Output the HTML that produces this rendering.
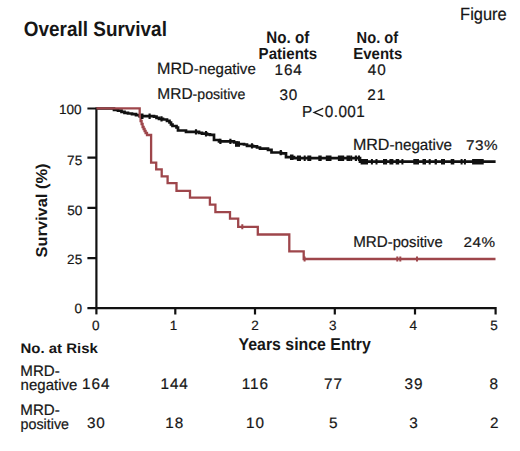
<!DOCTYPE html>
<html><head><meta charset="utf-8">
<style>
html,body{margin:0;padding:0;background:#fff;width:520px;height:451px;overflow:hidden}
svg{display:block}
text{font-family:"Liberation Sans",sans-serif;fill:#161616;stroke:#161616;stroke-width:0.2px;text-rendering:geometricPrecision}
.n{stroke-width:0.2px}
.b{font-weight:bold;stroke-width:0}
</style></head><body>
<svg width="520" height="451" viewBox="0 0 520 451">
<text transform="translate(460.10,19.50) scale(1,1.070)" font-size="16.43">Figure</text>
<text transform="translate(23.85,35.70) scale(1,1.100)" font-size="18.93" class="b">Overall Survival</text>
<text transform="translate(266.30,42.70) scale(1,1.100)" font-size="15.15" class="b">No. of</text>
<text transform="translate(258.60,58.50) scale(1,1.060)" font-size="15.08" class="b">Patients</text>
<text transform="translate(356.60,42.70) scale(1,1.100)" font-size="14.69" class="b">No. of</text>
<text transform="translate(353.30,58.50) scale(1,1.060)" font-size="14.97" class="b">Events</text>
<text transform="translate(157.05,74.20) scale(1,1.020)" font-size="15.08"><tspan font-size="16.13">MRD</tspan>-negative</text>
<text transform="translate(157.30,98.70) scale(1,1.020)" font-size="14.17"><tspan font-size="15.49">MRD</tspan>-positive</text>
<text transform="translate(274.48,74.85)" font-size="15.30" class="n" letter-spacing="0.90">164</text>
<text transform="translate(367.75,74.85)" font-size="15.30" class="n" letter-spacing="0.90">40</text>
<text transform="translate(279.45,99.60)" font-size="15.30" class="n" letter-spacing="0.90">30</text>
<text transform="translate(367.25,99.60)" font-size="15.30" class="n" letter-spacing="0.90">21</text>
<text transform="translate(59.03,114.30) scale(1,0.990)" font-size="13.54">100</text>
<text transform="translate(67.10,164.60) scale(1,0.990)" font-size="13.54">75</text>
<text transform="translate(67.25,214.60) scale(1,0.990)" font-size="13.54">50</text>
<text transform="translate(67.12,264.30) scale(1,0.990)" font-size="13.54">25</text>
<text transform="translate(74.38,312.70) scale(1,0.990)" font-size="13.54">0</text>
<text transform="translate(92.05,330.30) scale(1,0.990)" font-size="13.54">0</text>
<text transform="translate(169.77,330.30) scale(1,0.990)" font-size="13.54">1</text>
<text transform="translate(251.20,330.30) scale(1,0.990)" font-size="13.54">2</text>
<text transform="translate(328.92,330.30) scale(1,0.990)" font-size="13.54">3</text>
<text transform="translate(409.48,330.30) scale(1,0.990)" font-size="13.54">4</text>
<text transform="translate(490.18,330.30) scale(1,0.990)" font-size="13.54">5</text>
<text transform="translate(238.60,349.60) scale(1,1.080)" font-size="15.87" class="b">Years since Entry</text>
<text transform="translate(20.45,353.10) scale(1,0.930)" font-size="14.99" class="b">No. at Risk</text>
<text transform="translate(20.35,375.90)" font-size="15.14">MRD-</text>
<text transform="translate(20.60,389.50) scale(1,1.020)" font-size="15.00">negative</text>
<text transform="translate(20.35,414.90)" font-size="15.14">MRD-</text>
<text transform="translate(20.60,428.50) scale(1,1.020)" font-size="14.28">positive</text>
<text transform="translate(352.90,150.20) scale(1,1.020)" font-size="15.19"><tspan font-size="16.06">MRD</tspan>-negative</text>
<text transform="translate(466.02,150.20) scale(1,0.920)" font-size="15.30" class="n" letter-spacing="0.50">73%</text>
<text transform="translate(353.15,247.40) scale(1,1.020)" font-size="14.76"><tspan font-size="15.20">MRD</tspan>-positive</text>
<text transform="translate(463.38,247.40) scale(1,0.920)" font-size="15.30" class="n" letter-spacing="0.50">24%</text>
<text transform="translate(82.10,389.30)" font-size="15.30" class="n" letter-spacing="0.90">164</text>
<text transform="translate(160.50,389.30)" font-size="15.30" class="n" letter-spacing="0.90">144</text>
<text transform="translate(241.70,389.30)" font-size="15.30" class="n" letter-spacing="0.90">116</text>
<text transform="translate(324.12,389.30)" font-size="15.30" class="n" letter-spacing="0.90">77</text>
<text transform="translate(404.52,389.30)" font-size="15.30" class="n" letter-spacing="0.90">39</text>
<text transform="translate(489.50,389.30)" font-size="15.30" class="n">8</text>
<text transform="translate(86.93,428.35) scale(1,0.980)" font-size="15.30" class="n" letter-spacing="0.90">30</text>
<text transform="translate(165.33,428.35) scale(1,0.980)" font-size="15.30" class="n" letter-spacing="0.90">18</text>
<text transform="translate(246.02,428.35) scale(1,0.980)" font-size="15.30" class="n" letter-spacing="0.90">10</text>
<text transform="translate(328.92,428.35) scale(1,0.980)" font-size="15.30" class="n">5</text>
<text transform="translate(409.27,428.35) scale(1,0.980)" font-size="15.30" class="n">3</text>
<text transform="translate(490.00,428.35) scale(1,0.980)" font-size="15.30" class="n">2</text>
<text transform="translate(302.12,117.00) scale(1,1.04)" font-size="15.3">P</text>
<text transform="translate(324.82,117.00) scale(1,1.06)" font-size="15.3" letter-spacing="0.4">0.001</text>
<path d="M323.2,108.40 L314,112.40 L323.2,116.40" stroke="#161616" stroke-width="1.25" fill="none" stroke-linejoin="miter"/>
<text class="b" font-size="16.4" text-anchor="middle" transform="translate(46.8,210.5) rotate(-90) scale(1,0.96)">Survival (%)</text>
<g stroke="#111" stroke-width="2.2" fill="none">
<path d="M96.4,107.5 V314.4"/>
<path d="M87.4,308.2 H495.6 V314.4"/>
<path d="M87.4,108.5 H96.4 M87.4,157.7 H96.4 M87.4,207.9 H96.4 M87.4,258.2 H96.4"/>
<path d="M175.3,308 V314.4 M255,308 V314.4 M334.8,308 V314.4 M415,308 V314.4"/>
</g>
<g stroke="#111" fill="none">
<path stroke-width="2.7" d="M96.4,108.5 H114 V109.8 H118 V110.6 H121.5 V111.8 H124.5 V112.8 H128 V113.5 H132 V114.2 H136 V115.2 H139.5 V116.2 H154 V116.7 H156.5 V117.8 H159 V118.8 H163 V119.5 H167 V120.8 H169.5 V122.5 H171 V124.5 H172.5 V126 H176.5 V127.5 H178 V130.5 H186 V131.8 H199 V132.8 H202 V133.6 H207 V134.3 H210 V134.8 H214 V140 H219 V141.3 H234 V142.5 H237 V144 H244 V144.5 H247 V145.8 H253 V146.4 H257 V147.5 H260 V148.6 H268 V149.8 H271.5 V152.5 H281 V153.3 H286 V157.2 H294 V158.2 H360 V161.7 H495.6"/>
<path stroke-width="2.2" d="M149.6,113.6v5.4 M161.5,116.2v5.4 M196,129.2v5.4 M206,131.0v5.4 M220.4,138.7v5.4 M230.4,138.7v5.4 M252,143.2v5.4 M280.8,149.9v5.4"/>
</g>
<g stroke="#9e464b" fill="none">
<path stroke-width="2.3" d="M96.4,108.4 H139.7 V116 H140.6 V121 H141.6 V124 H142.6 V127 H143.6 V129 H144.6 V131 H145.6 V133 H147 V135 H151.1 V162.6 H156.2 V169.3 H161.7 V176.3 H167.6 V183.2 H176.5 V190.9 H190 V197.7 H209.9 V204.7 H215.4 V212.2 H230 V218.6 H238.2 V226.8 H257.8 V234.5 H289.3 V251.3 H303.7 V259 H495.5"/>
<path stroke-width="2" d="M242.3,224.3v5 M304.6,256.5v5 M397.3,256.5v5 M400.3,256.5v5 M417,256.5v5"/>
</g>
<g fill="#111"><rect x="235.0" y="141.3" width="5.0" height="5.5"/><rect x="141.0" y="113.5" width="2.5" height="5.5"/><rect x="290.0" y="154.5" width="3.5" height="5.5"/><rect x="296.9" y="155.5" width="4.1" height="5.5"/><rect x="303.7" y="155.5" width="2.0" height="5.5"/><rect x="307.3" y="155.5" width="4.0" height="5.5"/><rect x="318.3" y="155.5" width="3.4" height="5.5"/><rect x="325.8" y="155.5" width="5.7" height="5.5"/><rect x="337.9" y="155.5" width="6.3" height="5.5"/><rect x="346.5" y="155.5" width="3.5" height="5.5"/><rect x="350.2" y="155.5" width="2.0" height="5.5"/><rect x="354.8" y="155.5" width="2.3" height="5.5"/><rect x="358.0" y="155.5" width="2.0" height="5.5"/><rect x="360.6" y="159.0" width="7.4" height="5.5"/><rect x="370.9" y="159.0" width="2.0" height="5.5"/><rect x="375.5" y="159.0" width="2.0" height="5.5"/><rect x="383.0" y="159.0" width="4.1" height="5.5"/><rect x="389.4" y="159.0" width="4.0" height="5.5"/><rect x="395.7" y="159.0" width="3.5" height="5.5"/><rect x="401.4" y="159.0" width="2.0" height="5.5"/><rect x="413.3" y="159.0" width="5.7" height="5.5"/><rect x="422.5" y="159.0" width="3.5" height="5.5"/><rect x="428.7" y="159.0" width="2.0" height="5.5"/><rect x="434.6" y="159.0" width="2.3" height="5.5"/><rect x="441.0" y="159.0" width="4.0" height="5.5"/><rect x="450.7" y="159.0" width="3.6" height="5.5"/><rect x="460.6" y="159.0" width="2.0" height="5.5"/><rect x="463.9" y="159.0" width="2.0" height="5.5"/><rect x="472.1" y="159.0" width="11.6" height="5.5"/></g>
</svg>
</body></html>
